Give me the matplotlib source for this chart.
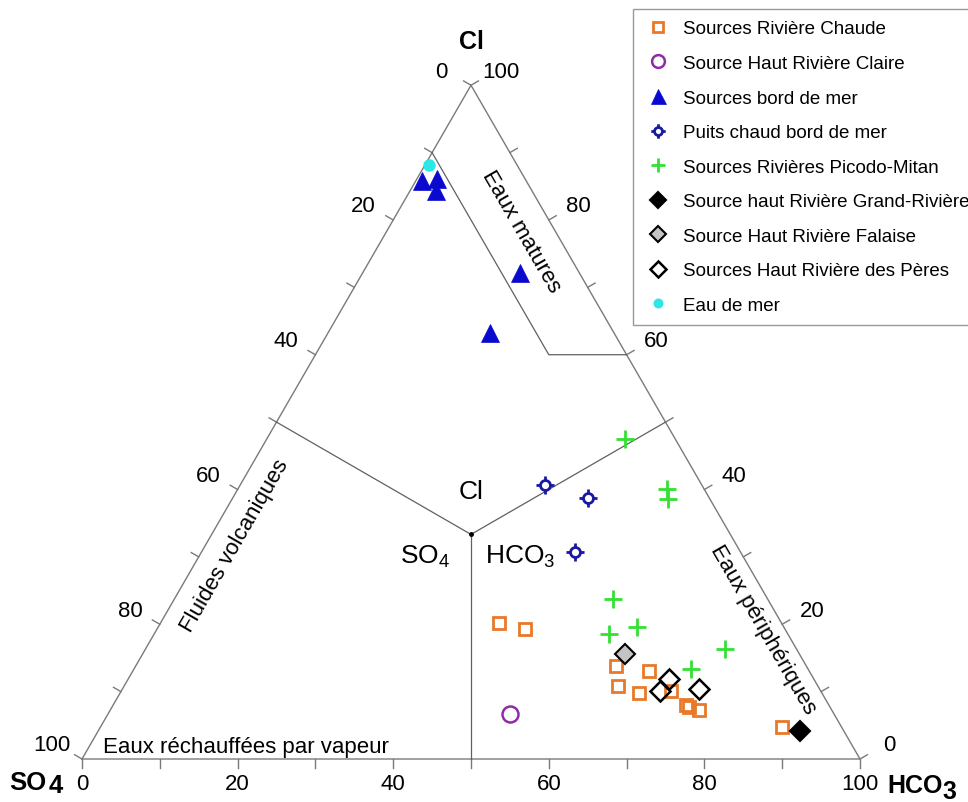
"""Giggenbach Cl-SO4-HCO3 ternary diagram of the spring waters."""

import matplotlib
matplotlib.use("Agg")
import matplotlib.pyplot as plt
import numpy as np
from matplotlib.lines import Line2D
from matplotlib.path import Path

plt.rcParams["font.family"] = ["Liberation Sans", "DejaVu Sans"]
plt.rcParams["mathtext.fontset"] = "custom"
plt.rcParams["mathtext.rm"] = "Liberation Sans"
plt.rcParams["mathtext.it"] = "Liberation Sans:italic"
plt.rcParams["mathtext.bf"] = "Liberation Sans:bold"

# Compositions in % : columns are Cl, SO4, HCO3
riviere_chaude = np.array([
    [20.2, 36.3, 43.5], [19.3, 33.4, 47.3], [13.8, 24.4, 61.8],
    [10.9, 25.6, 63.5], [9.8, 23.5, 66.7], [13.0, 20.6, 66.4],
    [10.1, 19.2, 70.7], [8.0, 18.4, 73.6], [7.7, 18.1, 74.2],
    [7.3, 17.1, 75.6], [4.7, 7.7, 87.6],
])
haut_claire = np.array([[6.7, 41.6, 51.7]])
bord_de_mer = np.array([
    [85.8, 13.4, 0.8], [86.1, 11.3, 2.6], [84.3, 12.4, 3.3],
    [72.2, 7.6, 20.2], [63.3, 15.9, 20.8],
])
puits_chaud = np.array([[40.6, 20.2, 39.2], [38.7, 15.6, 45.7], [30.7, 21.3, 48.0]])
picodo_mitan = np.array([
    [47.5, 6.4, 46.1], [40.1, 4.7, 55.2], [38.6, 5.4, 56.0],
    [23.7, 19.9, 56.4], [18.6, 22.9, 58.5], [19.6, 18.8, 61.6],
    [16.3, 9.2, 74.5], [13.4, 15.0, 71.6],
])
grand_riviere = np.array([[4.1, 5.7, 90.2]])
haut_falaise = np.array([[15.6, 22.4, 62.0]])
riviere_peres = np.array([[11.9, 18.6, 69.5], [10.1, 20.6, 69.3], [10.4, 15.5, 74.1]])
eau_de_mer = np.array([[88.2, 11.3, 0.5]])

tick_values = list(range(0, 101, 10))
label_values = list(range(0, 101, 20))

S3 = np.sqrt(3) / 2
GREY = "#7a7a7a"


def tern(cl, so4, hco3):
    """Ternary composition -> cartesian (SO4 bottom-left, HCO3 bottom-right, Cl top)."""
    cl, so4, hco3 = (np.asarray(v, dtype=float) for v in (cl, so4, hco3))
    tot = cl + so4 + hco3
    return (hco3 + cl / 2) / tot, cl / tot * S3


def puits_marker():
    """Open circle with four short ticks."""
    r = 0.55
    parts = [Path.circle((0, 0), r)]
    for dx, dy in [(0, 1), (0, -1), (1, 0), (-1, 0)]:
        parts.append(Path([[dx * r, dy * r], [dx, dy]], [Path.MOVETO, Path.LINETO]))
    return Path.make_compound_path(*parts)


groups = [
    (riviere_chaude, "Sources Rivière Chaude",
     dict(marker="s", ms=9, mfc="none", mec="#e8792a", mew=2)),
    (haut_claire, "Source Haut Rivière Claire",
     dict(marker="o", ms=11.5, mfc="none", mec="#8e2ba8", mew=1.8)),
    (bord_de_mer, "Sources bord de mer",
     dict(marker="^", ms=13.5, mfc="#0a0acf", mec="#0a0acf", mew=0.5)),
    (puits_chaud, "Puits chaud bord de mer",
     dict(marker=puits_marker(), ms=13, mfc="none", mec="#1a1aa0", mew=2)),
    (picodo_mitan, "Sources Rivières Picodo-Mitan",
     dict(marker="+", ms=13, mec="#33e033", mew=2)),
    (grand_riviere, "Source haut Rivière Grand-Rivière",
     dict(marker="D", ms=10, mfc="black", mec="black", mew=1.5)),
    (haut_falaise, "Source Haut Rivière Falaise",
     dict(marker="D", ms=10, mfc="#c4c4c4", mec="black", mew=1.5)),
    (riviere_peres, "Sources Haut Rivière des Pères",
     dict(marker="D", ms=10, mfc="none", mec="black", mew=1.8)),
    (eau_de_mer, "Eau de mer",
     dict(marker="o", ms=9, mfc="#2ee6e6", mec="#2ee6e6", mew=0)),
]

fig = plt.figure(figsize=(9.68, 8.03), dpi=100)
# 1 data unit = 778 px, base of the triangle at px (82, 760)
ax = fig.add_axes([0, 0, 1, 1])
ax.set_xlim(-82 / 778, (968 - 82) / 778)
ax.set_ylim(-43 / 778, (803 - 43) / 778)
ax.axis("off")

# Triangle frame
ax.plot([0, 1, 0.5, 0], [0, 0, S3, 0], color=GREY, lw=1)

# Ticks, perpendicular to each side
tl = 0.011
for v in tick_values:
    f = v / 100
    ax.plot([f, f], [0, -tl], color=GREY, lw=1)
    lx, ly = (1 - f) / 2, (1 - f) * S3
    ax.plot([lx, lx - S3 * tl], [ly, ly + 0.5 * tl], color=GREY, lw=1)
    rx, ry = 1 - f / 2, f * S3
    ax.plot([rx, rx + S3 * tl], [ry, ry + 0.5 * tl], color=GREY, lw=1)

for v in label_values:
    f = v / 100
    ax.text(f, -0.032, str(v), ha="center", va="center", fontsize=16)
    lx, ly = (1 - f) / 2, (1 - f) * S3
    ax.text(lx - S3 * 0.044, ly + 0.5 * 0.044 - 0.004, str(v),
            ha="center", va="center", fontsize=16)
    rx, ry = 1 - f / 2, f * S3
    ax.text(rx + S3 * 0.044, ry + 0.5 * 0.044 - 0.004, str(v),
            ha="center", va="center", fontsize=16)

# Field boundaries
cx, cy = tern(1, 1, 1)
for end in [(50, 50, 0), (50, 0, 50), (0, 50, 50)]:
    ex, ey = tern(*end)
    ax.plot([cx, ex], [cy, ey], color="#606060", lw=0.9)
ax.plot(cx, cy, "o", color="black", ms=2.5)
mx, my = tern([90, 60, 60], [10, 10, 0], [0, 30, 40])
ax.plot(mx, my, color="#606060", lw=0.9)

# Field names
ax.text(0.5645, 0.6787, "Eaux matures", rotation=-60, ha="center", va="center", fontsize=16)
ax.text(0.8753, 0.1671, "Eaux périphériques", rotation=-60, ha="center", va="center", fontsize=16)
ax.text(0.1967, 0.2751, "Fluides volcaniques", rotation=60, ha="center", va="center", fontsize=16)
ax.text(0.027, 0.0167, "Eaux réchauffées par vapeur", ha="left", va="center", fontsize=16)
ax.text(0.5, 0.3445, "Cl", ha="center", va="center", fontsize=19)
ax.text(0.473, 0.2605, r"SO$_4$", ha="right", va="center", fontsize=19)
ax.text(0.518, 0.2605, r"HCO$_3$", ha="left", va="center", fontsize=19)

# Corner names
ax.text(0.5, 0.9235, "Cl", ha="center", va="center", fontsize=18, fontweight="bold")
ax.text(-0.0935, -0.0290, "SO", ha="left", va="center", fontsize=18.5, fontweight="bold")
ax.text(-0.0430, -0.0335, "4", ha="left", va="center", fontsize=18.5, fontweight="bold")
ax.text(1.0355, -0.0340, "HCO", ha="left", va="center", fontsize=18, fontweight="bold")
ax.text(1.1060, -0.0415, "3", ha="left", va="center", fontsize=18, fontweight="bold")

# Samples
handles = []
for data, label, style in groups:
    x, y = tern(data[:, 0], data[:, 1], data[:, 2])
    ax.plot(x, y, linestyle="none", **style)
    handles.append(Line2D([], [], linestyle="none", label=label, **style))

leg = ax.legend(
    handles=handles, loc="upper left", bbox_to_anchor=(633 / 968, 1 - 10 / 803),
    bbox_transform=fig.transFigure, borderaxespad=0, fontsize=13.5, numpoints=1,
    markerscale=0.8, labelspacing=0.93, handlelength=1.44, handletextpad=0.62,
    borderpad=0.6, fancybox=False, framealpha=1, edgecolor="#999999",
)
leg.get_frame().set_linewidth(1)

fig.savefig("out.png", dpi=100)
plt.close(fig)
